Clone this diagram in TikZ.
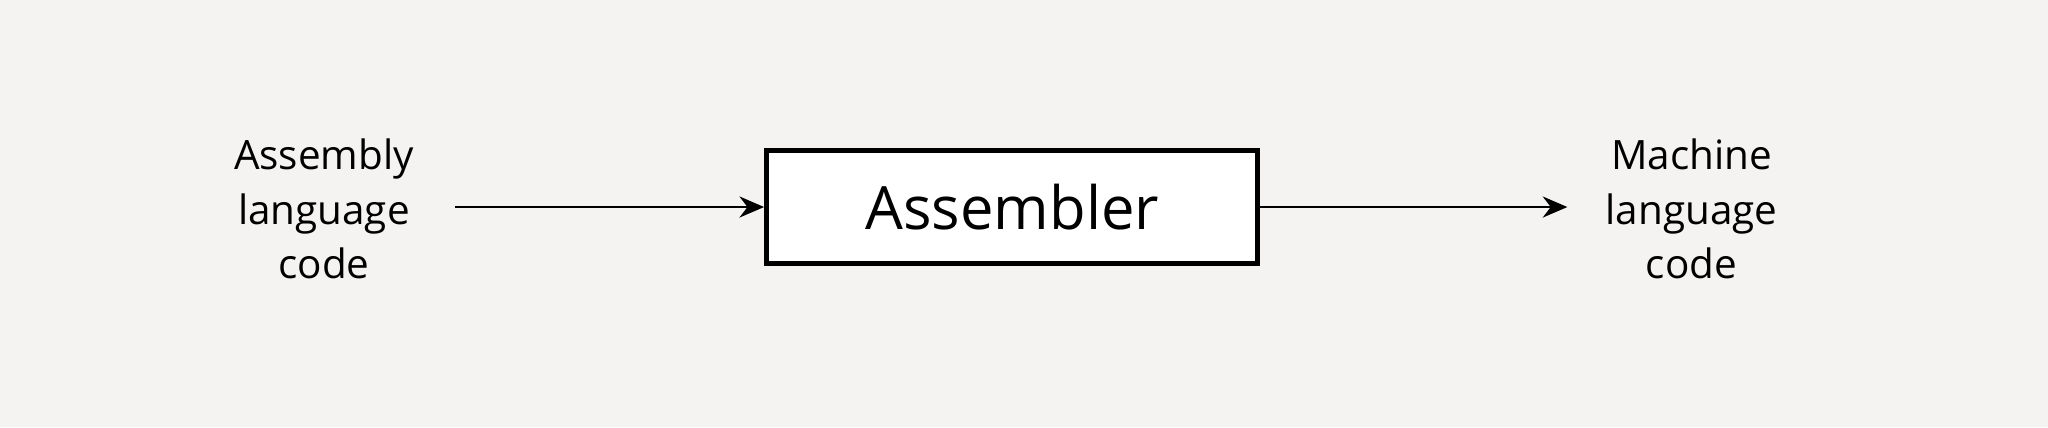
\documentclass[tikz,border=0pt]{standalone}
\usepackage{fontspec}
\setmainfont{Open Sans}
\usetikzlibrary{arrows.meta}
\definecolor{bg}{HTML}{F4F3F1}
\tikzset{lbl/.style={align=center,font=\fontsize{11.5}{15.6}\selectfont},
 arr/.style={-{Stealth[length=7pt,width=6pt]},line width=0.6pt},
 boxs/.style={draw,fill=white,line width=1.5pt,minimum width=380*0.01306cm-1.5pt,minimum height=91*0.01306cm-1.5pt,font=\fontsize{17}{20}\selectfont}}
\begin{document}
\begin{tikzpicture}[x=0.01306cm,y=-0.01306cm]
\fill[bg] (0,0) rectangle (1568,327);
\useasboundingbox (0,0) rectangle (1568,327);
\node[lbl] (in) at (248,160) {Assembly\\language\\code};
\node[boxs] (asm) at (775,158.5) {Assembler};
\node[lbl] (out) at (1295,160) {Machine\\language\\code};
\coordinate (s) at (348,158.5);
\coordinate (e) at (1200,158.5);
\draw[arr] (s) -- (asm.west);
\draw[arr] (asm.east) -- (e);
\end{tikzpicture}
\end{document}
